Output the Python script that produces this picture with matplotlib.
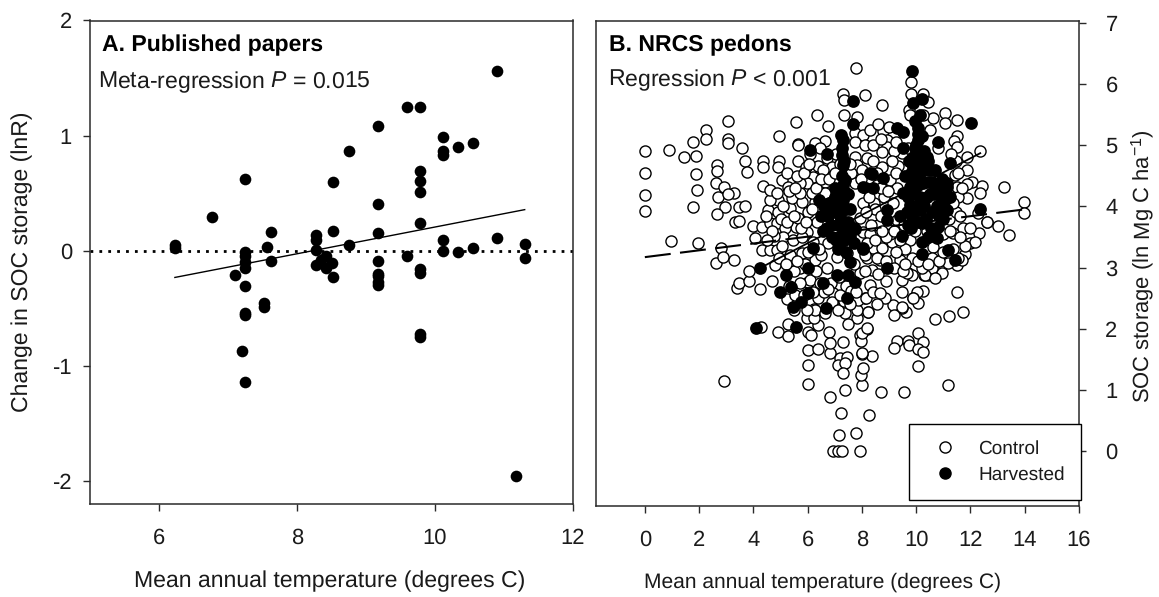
import matplotlib
matplotlib.use('Agg')
import matplotlib.pyplot as plt
from matplotlib.lines import Line2D

plt.rcParams['font.family'] = ['Liberation Sans', 'DejaVu Sans']
plt.rcParams['mathtext.fontset'] = 'custom'
plt.rcParams['mathtext.rm'] = 'Liberation Sans'
plt.rcParams['mathtext.it'] = 'Liberation Sans:italic'
plt.rcParams['axes.unicode_minus'] = False
plt.rcParams['text.hinting'] = 'none'
plt.rcParams['text.hinting_factor'] = 1

W, H = 1159, 597
DARK = '#2a2a2a'
TEXT = '#1a1a1a'

# panel A, published papers
papers = [
    (6.23, .05), (6.23, .02), (6.77, .29), (7.24, .62), (7.24, -.01), (7.24, -.05), (7.24, -.10),
    (7.24, -.15), (7.10, -.21), (7.24, -.31), (7.52, -.45), (7.52, -.485), (7.24, -.54), (7.24, -.56),
    (7.20, -.875), (7.24, -1.14), (7.63, .16), (7.57, .03), (7.63, -.09), (8.28, .14), (8.28, .09),
    (8.28, .01), (8.28, -.12), (8.42, -.05), (8.50, -.11), (8.42, -.15), (8.52, -.23), (8.35, -.08),
    (8.52, .17), (8.52, .60), (8.75, .87), (8.75, .05), (9.17, 1.08), (9.17, .41), (9.17, .15),
    (9.17, -.09), (9.17, -.20), (9.17, -.22), (9.17, -.27), (9.17, -.30), (9.60, 1.25), (9.78, 1.25),
    (9.78, .69), (9.78, .61), (9.78, .51), (9.78, .245), (9.60, -.05), (9.78, -.155), (9.78, -.19),
    (9.78, -.72), (9.78, -.75), (10.12, .985), (10.12, .87), (10.12, .83), (10.33, .90), (10.55, .94),
    (10.12, .09), (10.12, 0), (10.33, -.01), (10.55, .02), (10.90, 1.565), (10.90, .11), (11.30, .055),
    (11.30, -.065), (11.18, -1.96),
]
papers_fit_x = [6.23, 11.30]
papers_fit_y = [-.232, .357]

# panel B, NRCS pedons
control = [
    (0, 4.90), (0, 4.55), (0, 4.19), (0, 3.92), (.89, 4.93), (1.44, 4.81), (1.90, 4.82), (1.76, 5.05),
    (2.25, 5.25), (2.25, 5.10), (3.07, 5.39), (3.07, 5.11), (3.07, 5.03), (3.58, 4.95), (3.70, 4.74),
    (3.76, 4.56), (1.88, 4.53), (1.91, 4.26), (1.76, 3.99), (2.66, 4.67), (2.66, 4.58), (2.63, 4.38),
    (2.92, 4.31), (2.70, 4.15), (3.28, 4.22), (3.05, 4.21), (2.95, 3.99), (3.47, 3.99), (3.70, 4.00),
    (2.66, 3.87), (3.32, 3.74), (3.47, 3.76), (.96, 3.43), (1.96, 3.40), (2.80, 3.32), (2.62, 3.07),
    (2.88, 3.17), (3.28, 3.12), (3.99, 3.68), (4.32, 3.66), (4.35, 4.75), (4.35, 4.64), (4.94, 4.75),
    (4.91, 4.64), (4.94, 5.15), (5.57, 5.38), (6.35, 5.50), (6.75, 5.31), (5.65, 5.02), (7.79, 6.26),
    (7.31, 5.83), (7.34, 5.74), (8.12, 5.82), (7.34, 5.49), (7.82, 5.46), (8.75, 5.65), (9.80, 6.03),
    (9.80, 5.83), (10.25, 5.83), (10.44, 5.70), (9.74, 5.57), (9.78, 5.49), (10.63, 5.44), (11.07, 5.52),
    (11.07, 5.36), (11.51, 5.41), (11.51, 5.15), (11.40, 5.07), (11.51, 4.97), (12.36, 4.90), (11.88, 4.80),
    (11.48, 4.75), (11.88, 4.59), (11.44, 4.51), (12.07, 4.40), (11.88, 4.36), (12.44, 4.33), (12.36, 4.22),
    (13.25, 4.31), (11.88, 4.13), (11.51, 4.31), (11.55, 4.15), (13.98, 4.07), (13.98, 3.89), (13.43, 3.53),
    (13.03, 3.68), (12.62, 3.74), (12.32, 3.56), (12.29, 3.89), (11.99, 3.40), (12.15, 3.41), (11.37, 3.56),
    (11.73, 3.64), (11.99, 3.64), (11.81, 3.22), (11.51, 3.04), (11.70, 3.12), (10.63, 2.99), (9.70, 2.91),
    (10.30, 2.88), (11.51, 2.60), (11.73, 2.27), (11.22, 2.20), (10.70, 2.16), (10.26, 2.61), (10.03, 2.60),
    (9.90, 2.50), (10.08, 2.42), (9.63, 2.27), (9.48, 2.34), (9.48, 2.60), (9.15, 2.39), (9.19, 2.22),
    (8.86, 2.50), (9.48, 2.79), (9.85, 2.88), (10.44, 2.88), (10.70, 2.84), (10.07, 1.93), (9.30, 1.80),
    (9.19, 1.68), (9.70, 1.80), (9.74, 1.73), (10.26, 1.78), (10.07, 1.67), (10.26, 1.62), (10.07, 1.39),
    (11.18, 1.08), (9.56, .96), (8.71, .96), (8.27, .59), (7.79, .29), (7.93, 0), (8.01, 1.08), (7.97, 1.24),
    (8.04, 1.36), (8.38, 1.55), (8.01, 1.58), (8.19, 1.99), (7.93, 1.90), (7.97, 1.80), (8.23, 2.27),
    (7.82, 2.17), (8.12, 2.50), (2.92, 1.14), (4.28, 2.03), (4.91, 1.94), (5.28, 1.88), (5.28, 2.08),
    (6.01, 1.94), (6.13, 1.90), (6.38, 2.06), (6.79, 1.94), (6.01, 1.65), (6.38, 1.67), (6.83, 1.60),
    (6.83, 1.76), (7.31, 1.78), (6.01, 1.41), (6.01, 1.09), (6.83, .88), (7.38, 1.00), (7.23, .62),
    (7.16, .26), (6.94, 0), (7.12, 0), (7.27, 0), (7.20, 1.52), (7.45, 1.54), (7.12, 1.40), (7.38, 1.44),
    (7.31, 1.27), (8.01, 1.60), (3.39, 2.66), (3.47, 2.75), (3.84, 2.78), (4.24, 2.65), (4.69, 2.78),
    (5.24, 2.48), (5.98, 2.17), (6.24, 2.17), (6.24, 2.32), (6.94, 2.58), (6.94, 2.42), (7.38, 2.26),
    (7.49, 2.08), (7.82, 2.30), (8.01, 1.93), (8.19, 2.01), (7.86, 2.47), (6.01, 2.76), (3.84, 2.94),
    (4.06, 3.48), (4.32, 3.28), (4.61, 3.28), (4.87, 3.28), (4.80, 3.04), (4.54, 3.94), (4.91, 3.91),
    (4.61, 3.73), (4.87, 3.73), (5.57, 3.66), (5.35, 3.97), (5.65, 3.81), (5.17, 3.64), (4.91, 4.10),
    (5.42, 4.13), (5.79, 4.07), (4.61, 4.10), (5.98, 3.58), (5.35, 3.20), (5.79, 3.24), (6.27, 3.12),
    (5.72, 3.00), (6.09, 2.79), (5.72, 2.75), (6.27, 2.30), (5.98, 2.30), (6.38, 2.50), (6.90, 2.43),
    (7.12, 2.30), (8.23, 2.27), (8.15, 2.50), (8.30, 2.71), (7.93, 2.91), (8.38, 2.96), (8.41, 3.32),
    (8.04, 3.58), (7.93, 3.81), (8.41, 3.81), (8.04, 4.05), (7.08, 3.17), (7.45, 3.24), (6.72, 3.00),
    (6.27, 4.07), (7.75, 5.20), (8.04, 5.16), (7.75, 5.05), (6.64, 5.07), (6.27, 5.03), (5.65, 5.00),
    (5.65, 4.75), (5.94, 4.64), (6.38, 4.66), (6.72, 4.79), (6.90, 4.64), (7.75, 4.80), (8.12, 5.00),
    (7.82, 4.67), (8.19, 4.79), (6.20, 4.48), (6.64, 4.40), (5.98, 4.38), (5.06, 4.43), (4.35, 4.33),
    (4.61, 4.26), (5.28, 4.31), (5.72, 4.38), (4.87, 4.22), (5.72, 4.22), (6.16, 4.22), (6.64, 4.22),
    (7.38, 4.23), (7.75, 4.38), (8.78, 5.23), (8.93, 5.08), (8.93, 4.97), (8.75, 4.89), (8.75, 4.64),
    (9.34, 4.66), (9.48, 4.87), (9.04, 4.43), (12.62, 3.74), (11.81, 3.36), (10.96, 2.91), (10.59, 2.99),
    (10.33, 2.88), (9.89, 2.50), (9.67, 2.91), (9.48, 2.35), (8.41, 2.60), (8.67, 2.58), (9.11, 3.42),
    (8.75, 3.32), (8.67, 3.12), (9.15, 3.12), (9.85, 3.15), (9.41, 3.12), (10.63, 3.33), (9.78, 3.45),
    (11.55, 3.15), (11.18, 3.07), (10.70, 2.83), (5.10, 3.50), (5.45, 3.45), (5.80, 3.50), (6.20, 3.42),
    (4.75, 3.52), (5.05, 3.35), (5.50, 2.95), (5.90, 3.05), (6.50, 3.20), (6.85, 2.75), (7.40, 2.70),
    (7.70, 3.05), (8.20, 3.15), (8.90, 2.78), (9.20, 3.00), (5.30, 2.70), (5.55, 2.55), (6.60, 2.60),
    (7.15, 2.85), (7.60, 2.62), (8.55, 2.40), (6.00, 3.90), (6.35, 3.75), (5.25, 4.55), (5.60, 4.50),
    (6.10, 4.85), (6.45, 4.95), (7.05, 4.85), (7.60, 4.55), (8.00, 4.60), (8.40, 4.75), (8.55, 4.35),
    (8.80, 4.15), (9.15, 4.05), (9.30, 4.30), (8.45, 4.05), (8.60, 3.70), (9.05, 3.55), (9.30, 3.78),
    (10.20, 3.00), (10.60, 3.15), (11.00, 3.55), (10.40, 3.60), (10.05, 4.75), (11.30, 4.85), (11.20, 3.80),
    (9.60, 3.30), (9.95, 3.60), (8.30, 3.55), (8.10, 3.20), (9.50, 2.95), (8.60, 2.90), (7.35, 2.45),
    (6.65, 2.25), (5.50, 2.30), (6.30, 2.95), (6.75, 3.40), (6.55, 4.60), (7.20, 4.70), (8.30, 5.25),
    (8.60, 5.35), (8.40, 5.00), (9.20, 4.90), (9.70, 4.95), (10.50, 5.25), (10.80, 4.95), (10.25, 5.50),
    (4.45, 3.85), (4.70, 3.60), (5.00, 3.80), (5.25, 3.75), (5.50, 3.85), (5.75, 3.65), (5.95, 3.75),
    (6.15, 3.95), (4.50, 3.45), (4.95, 3.15), (5.20, 3.05), (5.60, 3.10), (6.00, 3.25), (6.40, 3.30),
    (5.10, 4.00), (5.30, 4.25), (5.55, 4.30), (5.85, 4.55), (6.05, 4.70), (6.30, 4.30), (6.50, 4.45),
    (6.80, 4.45), (7.00, 4.55), (7.55, 4.70), (7.95, 4.45), (8.15, 4.30), (8.25, 4.15), (8.55, 4.55),
    (8.70, 4.30), (8.95, 4.25), (9.10, 4.75), (9.25, 4.55), (8.50, 3.95), (8.70, 3.85), (8.90, 3.50),
    (8.35, 3.70), (8.15, 3.90), (8.20, 3.40), (8.50, 3.45), (8.75, 3.60), (9.20, 3.60), (9.40, 3.45),
    (9.55, 3.70), (9.25, 3.25), (8.55, 3.15), (8.10, 2.95), (7.80, 2.60), (7.55, 2.40), (7.20, 2.55),
    (6.75, 2.65), (6.45, 2.75), (6.20, 2.60), (5.85, 2.55), (8.90, 3.10), (9.60, 3.05), (10.05, 3.10),
    (10.45, 3.05), (10.85, 3.10), (11.00, 3.25), (11.35, 3.30), (11.60, 3.50), (11.25, 3.60), (11.45, 3.90),
    (11.60, 3.85), (11.35, 4.05), (11.55, 4.55), (11.70, 4.30), (9.25, 5.05), (9.00, 5.30), (8.70, 5.10),
]

harvested = [
    (9.85, 6.21), (7.68, 5.72), (7.68, 5.34), (7.23, 5.16), (7.30, 5.08), (6.09, 4.93), (6.72, 4.85),
    (7.27, 4.84), (7.31, 4.67), (8.30, 4.54), (8.04, 4.31), (8.41, 4.30), (7.38, 4.43), (7.08, 4.13),
    (9.89, 5.69), (10.22, 5.75), (10.15, 5.49), (9.30, 5.29), (9.52, 5.21), (10.07, 5.28), (10.81, 5.05),
    (10.07, 5.08), (9.52, 4.95), (10.15, 4.87), (11.25, 4.71), (8.38, 4.53), (8.78, 4.46), (10.04, 4.64),
    (10.52, 4.59), (10.63, 4.38), (11.14, 4.38), (9.78, 4.31), (10.26, 4.38), (9.52, 4.22), (11.00, 4.22),
    (12.03, 5.36), (8.93, 3.94), (8.93, 3.77), (7.75, 3.63), (9.48, 3.51), (8.04, 3.30), (8.93, 3.00),
    (10.22, 3.42), (10.22, 3.22), (11.18, 3.28), (11.44, 3.12), (12.36, 3.95), (10.77, 3.48), (10.81, 3.66),
    (9.78, 4.02), (10.15, 3.94), (11.14, 3.94), (11.25, 4.15), (11.14, 4.31), (10.22, 3.73), (9.80, 4.55),
    (9.90, 4.80), (10.40, 4.15), (10.60, 3.90), (9.85, 3.85), (10.00, 5.00), (4.10, 2.01), (5.57, 2.03),
    (4.24, 2.99), (5.20, 2.88), (5.39, 2.68), (4.98, 2.60), (6.01, 2.58), (5.76, 2.43), (5.46, 2.35),
    (6.68, 2.34), (6.57, 2.75), (7.08, 2.88), (7.45, 2.50), (7.75, 2.76), (7.49, 2.88), (6.01, 3.00),
    (6.20, 3.32), (7.56, 3.09), (8.04, 3.32), (6.40, 4.10), (6.60, 4.00), (6.50, 3.85), (6.90, 3.90),
    (7.00, 4.15), (7.30, 4.10), (7.50, 4.20), (7.10, 3.70), (7.30, 3.60), (7.50, 3.75), (6.90, 3.50),
    (7.20, 3.40), (7.40, 3.25), (7.70, 3.40), (7.55, 3.95), (7.70, 3.65), (7.10, 3.30), (7.00, 4.30),
    (7.30, 4.35), (6.70, 3.65), (10.40, 4.80), (10.70, 4.60), (9.60, 4.50), (9.40, 3.85), (10.90, 4.05),
    (6.75, 3.85), (6.55, 3.60), (6.85, 3.70), (7.20, 3.85), (7.20, 4.00), (7.40, 3.95), (7.05, 3.45),
    (7.35, 3.45), (7.55, 3.50), (6.80, 4.05), (7.15, 4.20), (7.25, 4.50), (7.35, 4.75), (7.25, 4.95),
    (9.95, 5.40), (10.05, 5.18), (10.20, 5.15), (9.95, 4.95), (10.15, 4.70), (9.90, 4.65), (9.85, 4.42),
    (10.10, 4.50), (10.30, 4.60), (10.45, 4.40), (10.65, 4.20), (10.85, 4.35), (9.70, 4.15), (9.95, 4.20),
    (10.15, 4.15), (9.65, 3.90), (10.00, 4.00), (10.30, 4.00), (10.85, 3.85), (11.05, 4.10), (10.55, 3.65),
    (10.05, 3.75), (9.80, 3.65), (10.35, 3.80), (10.75, 4.00), (11.00, 3.80), (10.95, 4.45), (10.45, 4.75),
    (10.30, 4.90), (10.60, 4.40), (9.75, 4.75), (10.05, 4.35), (10.50, 4.20), (9.70, 3.70), (10.45, 3.50),
]

fit_all_x = [0, 13.98]
fit_all_y = [3.17, 3.95]
fit_harv_x = [4.24, 12.36]
fit_harv_y = [2.99, 4.87]

a_xticks = [6, 8, 10, 12]
a_yticks = [-2, -1, 0, 1, 2]
b_xticks = [0, 2, 4, 6, 8, 10, 12, 14, 16]
b_yticks = [0, 1, 2, 3, 4, 5, 6, 7]


def px_axes(left, top, right, bottom):
    return [left / W, 1 - bottom / H, (right - left) / W, (bottom - top) / H]


def style(ax):
    for s in ax.spines.values():
        s.set_color(DARK)
        s.set_linewidth(1.1)
    ax.tick_params(length=5, width=1.0, color=DARK, labelsize=16, labelcolor=TEXT)
    ax.tick_params(axis='x', pad=12)


fig = plt.figure(figsize=(W / 100, H / 100), dpi=100)

ax = fig.add_axes(px_axes(90, 20.5, 573, 504))
style(ax)
ax.tick_params(axis='y', pad=8)
ax.set_xlim(5, 12)
ax.set_ylim(-2.2, 2)
ax.set_xticks(a_xticks)
ax.set_yticks(a_yticks)
ax.axhline(0, color='black', lw=2.0, ls=(0, (1, 2.2)), zorder=1)
ax.plot(papers_fit_x, papers_fit_y, color='black', lw=1.0, zorder=3)
xs, ys = zip(*papers)
ax.plot(xs, ys, 'o', color='black', ms=8.4, mew=0, zorder=2)
fig.text(102 / W, 1 - 45 / H, 'A. Published papers', fontsize=16.5, fontweight='bold', va='center',
         color='black')
fig.text(98 / W, 1 - 82 / H, 'Meta-regression $\\mathit{P}$ = 0.015', fontsize=16.5, va='center', color=TEXT)
fig.text(330 / W, 1 - 581 / H, 'Mean annual temperature (degrees C)', fontsize=16.5, ha='center',
         va='center', color=TEXT)
fig.text(22 / W, 1 - 262 / H, 'Change in SOC storage (lnR)', fontsize=16.4, rotation=90, ha='center',
         va='center', color=TEXT)

bx = fig.add_axes(px_axes(596, 20.5, 1079, 506))
style(bx)
bx.yaxis.tick_right()
bx.tick_params(axis='y', pad=14)
bx.set_xlim(-1.8, 16)
bx.set_ylim(-0.9, 7.04)
bx.set_xticks(b_xticks)
bx.set_yticks(b_yticks)
xs, ys = zip(*control)
bx.plot(xs, ys, 'o', mfc='white', mec='black', ms=8.0, mew=1.0, zorder=2)
xs, ys = zip(*harvested)
bx.plot(xs, ys, 'o', color='black', ms=9.2, mew=0, zorder=3)
bx.plot(fit_all_x, fit_all_y, color='black', lw=1.5, ls=(0, (12.5, 4.5)), zorder=4)
bx.plot(fit_harv_x, fit_harv_y, color='black', lw=1.3, zorder=4)
fig.text(609 / W, 1 - 45 / H, 'B. NRCS pedons', fontsize=16.3, fontweight='bold', va='center', color='black')
fig.text(608 / W, 1 - 80 / H, 'Regression $\\mathit{P}$ < 0.001', fontsize=16.3, va='center', color=TEXT)
fig.text(823 / W, 1 - 582 / H, 'Mean annual temperature (degrees C)', fontsize=15.3, ha='center',
         va='center', color=TEXT)
fig.text(1143 / W, 1 - 266 / H, 'SOC storage (ln Mg C ha$^{-1}$)', fontsize=16.0, rotation=90,
         ha='center', va='center', color=TEXT)

handles = [
    Line2D([], [], ls='none', marker='o', mfc='white', mec='black', ms=8.0, mew=1.0, label='Control'),
    Line2D([], [], ls='none', marker='o', mfc='black', mec='black', ms=8.0, mew=1.0, label='Harvested'),
]
leg = bx.legend(handles=handles, loc='lower right', bbox_to_anchor=(1.004, 0.012), fontsize=13.8,
                frameon=True, fancybox=False, framealpha=1, edgecolor='black', borderaxespad=0,
                labelspacing=0.42, handletextpad=0.75, borderpad=0.85, labelcolor=TEXT)
leg.get_frame().set_linewidth(1.0)
leg.set_zorder(6)

plt.savefig('out.png', dpi=100)
